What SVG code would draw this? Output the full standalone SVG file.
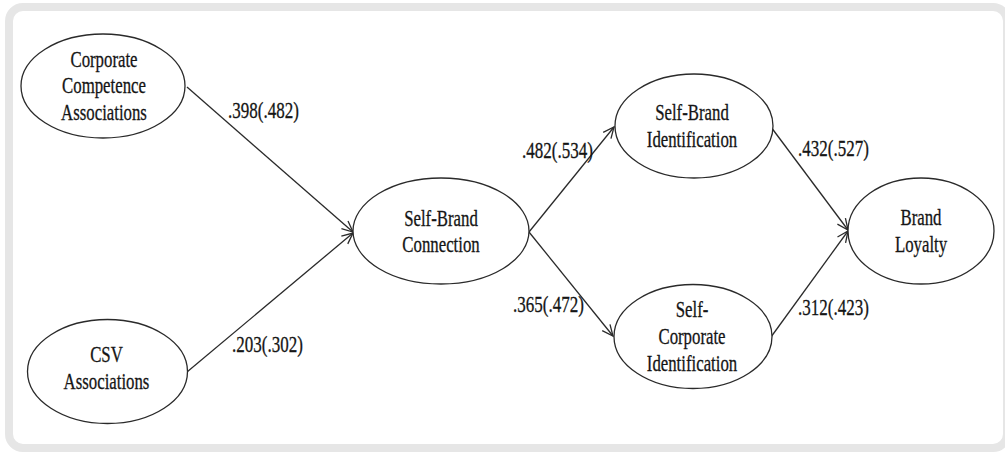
<svg xmlns="http://www.w3.org/2000/svg" width="1005" height="452" viewBox="0 0 1005 452">
<defs>
<style>
.node ellipse{fill:#fff;stroke:#2a2a2a;stroke-width:1.3}
.t{font-family:"Liberation Serif",serif;font-size:23px;fill:#151515;stroke:#151515;stroke-width:0.3;text-anchor:middle}
.lbl{font-family:"Liberation Serif",serif;font-size:23px;fill:#151515;stroke:#151515;stroke-width:0.3}
.edge{stroke:#2a2a2a;stroke-width:1.3;fill:none;marker-end:url(#arr)}
</style>
<marker id="arr" markerUnits="userSpaceOnUse" markerWidth="14" markerHeight="12" refX="12" refY="6" orient="auto">
<path d="M1,1 L12,6 L1,11" fill="none" stroke="#2a2a2a" stroke-width="1.3"/>
</marker>
</defs>
<rect x="0" y="0" width="1005" height="452" fill="#fff"/>
<rect x="9" y="7" width="998" height="441" rx="14" fill="#fff" stroke="#e6e6e6" stroke-width="8"/>
<g id="connectors">
<line class="edge" x1="187" y1="87" x2="353" y2="232"/>
<line class="edge" x1="187" y1="372" x2="353" y2="233"/>
<line class="edge" x1="529" y1="232" x2="614" y2="127"/>
<line class="edge" x1="529" y1="232" x2="613" y2="336"/>
<line class="edge" x1="771" y1="127" x2="848" y2="230"/>
<line class="edge" x1="771" y1="337" x2="848" y2="231"/>
</g>
<g id="labels">
<text class="lbl" transform="translate(228,0) scale(0.74,1)" x="0" y="118">.398(.482)</text>
<text class="lbl" transform="translate(232,0) scale(0.74,1)" x="0" y="352">.203(.302)</text>
<text class="lbl" transform="translate(522,0) scale(0.74,1)" x="0" y="158">.482(.534)</text>
<text class="lbl" transform="translate(513,0) scale(0.74,1)" x="0" y="312">.365(.472)</text>
<text class="lbl" transform="translate(798,0) scale(0.74,1)" x="0" y="156">.432(.527)</text>
<text class="lbl" transform="translate(798,0) scale(0.74,1)" x="0" y="315">.312(.423)</text>
</g>
<g id="cca" class="node">
<ellipse cx="103" cy="86" rx="82" ry="52"/>
<text class="t" transform="translate(104,0) scale(0.73,1)"><tspan x="0" y="67">Corporate</tspan><tspan x="0" y="93">Competence</tspan><tspan x="0" y="120">Associations</tspan></text>
</g>
<g id="csv" class="node">
<ellipse cx="107.5" cy="371.5" rx="80" ry="52"/>
<text class="t" transform="translate(106.5,0) scale(0.73,1)"><tspan x="0" y="362">CSV</tspan><tspan x="0" y="389">Associations</tspan></text>
</g>
<g id="sbc" class="node">
<ellipse cx="441" cy="231" rx="88" ry="53"/>
<text class="t" transform="translate(441,0) scale(0.73,1)"><tspan x="0" y="226">Self-Brand</tspan><tspan x="0" y="252">Connection</tspan></text>
</g>
<g id="sbi" class="node">
<ellipse cx="694" cy="126" rx="79" ry="52"/>
<text class="t" transform="translate(692,0) scale(0.73,1)"><tspan x="0" y="120">Self-Brand</tspan><tspan x="0" y="147">Identification</tspan></text>
</g>
<g id="sci" class="node">
<ellipse cx="693" cy="336.5" rx="79" ry="52"/>
<text class="t" transform="translate(692,0) scale(0.73,1)"><tspan x="0" y="317">Self-</tspan><tspan x="0" y="344">Corporate</tspan><tspan x="0" y="371">Identification</tspan></text>
</g>
<g id="bl" class="node">
<ellipse cx="921" cy="231" rx="73" ry="53"/>
<text class="t" transform="translate(921,0) scale(0.73,1)"><tspan x="0" y="225">Brand</tspan><tspan x="0" y="252">Loyalty</tspan></text>
</g>
</svg>
